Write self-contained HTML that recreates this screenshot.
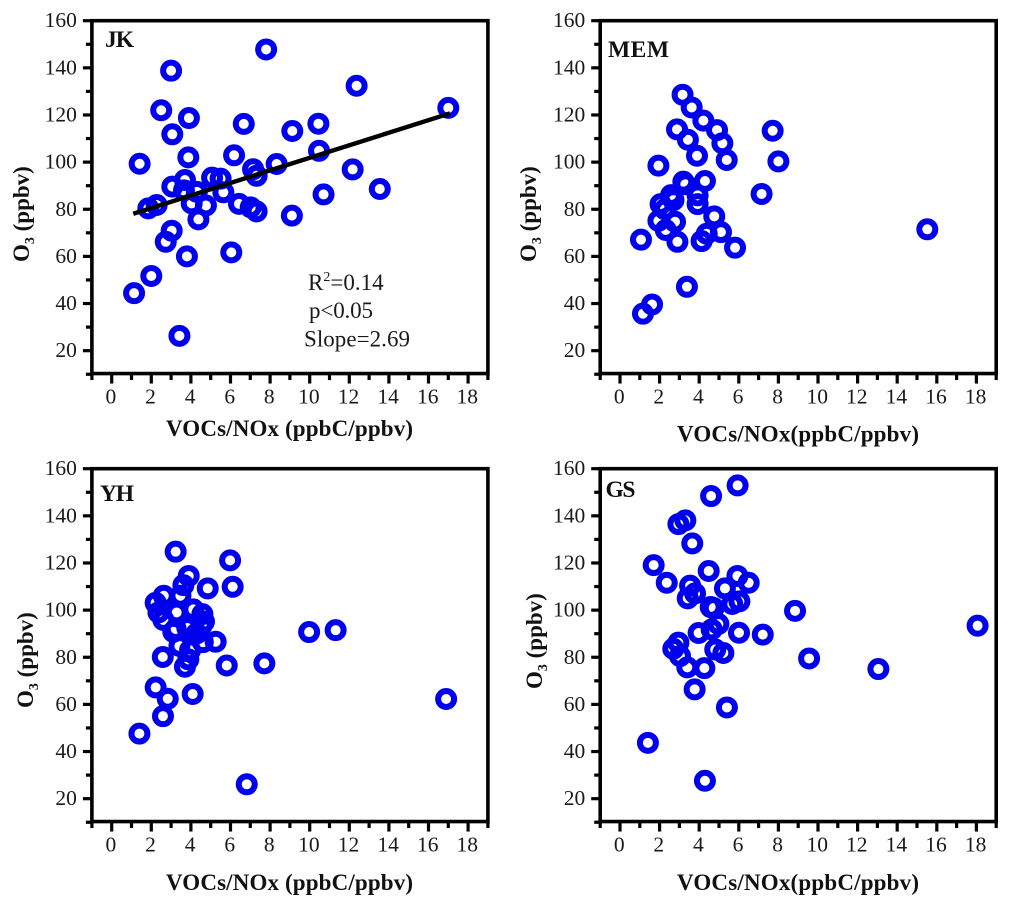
<!DOCTYPE html>
<html lang="en">
<head>
<meta charset="utf-8">
<title>O3 vs VOCs/NOx scatter panels</title>
<style>
html,body{margin:0;padding:0;background:#fff;}
svg{display:block;}
text{font-family:"Liberation Serif",serif;fill:#1a1a1a;}
.tick{font-size:21.5px;}
.title{font-size:23px;font-weight:bold;fill:#111;}
.tag{font-size:23.5px;font-weight:bold;fill:#111;}
.note{font-size:23px;}
</style>
</head>
<body>
<svg id="chart" xmlns="http://www.w3.org/2000/svg" width="1010" height="907" viewBox="0 0 1010 907"></svg>
<script>
const xMajorTicks = [0,2,4,6,8,10,12,14,16,18];
const xMinorTicks = [-1,1,3,5,7,9,11,13,15,17,19];
const yMajorTicks = [20,40,60,80,100,120,140,160];
const yMinorTicks = [10,30,50,70,90,110,130,150];

const jkX = [7.8,3.0,12.37,2.5,17.0,3.9,6.67,10.44,3.06,9.12,3.87,6.18,10.47,1.41,7.14,8.33,12.17,7.32,5.07,5.5,3.06,3.7,3.65,4.3,5.64,13.54,10.7,1.85,2.27,4.04,4.76,6.43,7.02,7.32,9.1,4.38,3.03,2.73,3.8,6.04,2.0,1.13,3.42];
const jkY = [147.8,138.8,132.4,122,123,118.7,116.2,116.3,111.8,113.2,102,102.9,104.8,99.3,97,99.2,96.9,94.2,93.4,93,89.6,92.4,88,87.4,87.2,88.6,86.3,80.4,81.8,82.5,81.6,82.3,80.8,79.1,77.3,75.7,70.9,66.2,60,61.7,51.7,44.4,26.3];
const jkFitX = [1.09,17.09];
const jkFitY = [78.1,120.7];

const memX = [3.16,3.62,4.21,4.9,2.88,3.43,5.17,3.89,5.39,7.71,8.0,1.94,3.2,3.3,4.29,7.15,3.92,3.92,2.58,2.7,2.05,2.27,2.78,1.94,2.31,2.9,1.06,4.76,5.1,4.12,4.38,5.81,15.52,3.38,1.62,1.16];
const memY = [128.6,123.2,117.6,113.6,113.9,109.5,108,102.7,100.9,113.3,100.3,98.5,91.7,90.6,92,86.5,85.9,82.2,86,83.9,82.2,80,74.7,75.1,71.2,66.2,67.1,77,70.3,66.5,69.6,63.7,71.5,47.1,39.6,35.7];

const yhX = [3.23,5.98,3.89,3.62,6.11,4.85,3.47,2.63,2.22,2.36,2.61,3.28,4.12,4.58,4.66,4.55,3.23,3.11,3.82,4.29,5.25,4.6,3.42,3.96,2.58,3.87,3.7,5.81,7.71,9.97,11.31,2.22,2.83,4.09,2.59,1.4,6.82,16.89];
const yhY = [124.8,121.1,114.5,110.6,109.9,109.2,106.1,106.1,103.1,99,95.8,99,100.3,98.3,95.1,93.7,92,90.8,92.4,90.1,86.6,86.4,84.8,83,80.1,79.1,76,76.5,77.4,90.7,91.5,67.2,62.4,64.4,55,47.6,26.1,62.3];

const gsX = [5.94,4.6,3.3,2.95,3.65,1.7,4.48,5.93,6.5,2.36,3.54,3.79,5.3,3.42,6.03,5.67,4.58,4.73,8.84,4.97,4.63,3.97,6.01,7.21,2.95,2.69,3.03,4.81,5.22,3.4,4.26,3.77,5.4,9.55,13.05,18.06,1.41,4.29];
const gsY = [152.9,148.4,138.1,136.5,128.3,119.1,116.6,114.5,111.6,111.6,110.4,107.1,109.2,105,103.7,102.6,101.3,100.9,99.7,94.1,91.8,90.3,90.4,89.6,86.2,83.6,80.5,83.3,81.8,75.7,75.4,66.4,58.7,79.5,75,93.4,43.7,27.6];

const NS = 'http://www.w3.org/2000/svg';
const svg = document.getElementById('chart');

function mk(tag, attrs, parent, txt){
  const el = document.createElementNS(NS, tag);
  for (const k in attrs) el.setAttribute(k, attrs[k]);
  if (txt !== undefined) el.textContent = txt;
  parent.appendChild(el);
  return el;
}

function drawPanel(p){
  const xs = v => p.x0 + v * 19.8;
  const ys = v => p.yTop + (160 - v) * 2.357;
  const g = mk('g', {}, svg);
  
  

  const L = xs(-1), R = xs(19), T = ys(160), B = ys(10.3);

  const pts = mk('g', {fill:'none', stroke:'#0000ee', 'stroke-width':6}, g);
  
  
  p.xv.forEach((xv, i) => {
    const c = mk('circle', {cx:xs(xv), cy:ys(p.yv[i]), r:8}, pts);
    
    
  });

  if (p.fitX){
    const fit = mk('line', {x1:xs(p.fitX[0]), y1:ys(p.fitY[0]), x2:xs(p.fitX[1]), y2:ys(p.fitY[1]), stroke:'#000', 'stroke-width':4.4}, g);
    
    
  }

  const frame = mk('rect', {x:L, y:T, width:R-L, height:B-T, fill:'none', stroke:'#000', 'stroke-width':3.6}, g);
  
  

  const xAxis = mk('g', {}, g);
  
  
  xMajorTicks.forEach(v => {
    mk('line', {x1:xs(v), x2:xs(v), y1:B, y2:B+10, stroke:'#000', 'stroke-width':3.2}, xAxis);
    const t = mk('text', {x:xs(v)-0.8, y:B+30, 'text-anchor':'middle', class:'tick'}, xAxis, String(v));
    
    
  });
  xMinorTicks.forEach(v => {
    mk('line', {x1:xs(v), x2:xs(v), y1:B, y2:B+6.5, stroke:'#000', 'stroke-width':3.2}, xAxis);
  });

  const yAxis = mk('g', {}, g);
  
  
  yMajorTicks.forEach(v => {
    mk('line', {x1:L-9, x2:L, y1:ys(v), y2:ys(v), stroke:'#000', 'stroke-width':3.2}, yAxis);
    const t = mk('text', {x:L-15, y:ys(v)+6.5, 'text-anchor':'end', class:'tick'}, yAxis, String(v));
    
    
  });
  yMinorTicks.forEach(v => {
    mk('line', {x1:L-6, x2:L, y1:ys(v), y2:ys(v), stroke:'#000', 'stroke-width':3.2}, yAxis);
  });

  const xt = mk('text', {x:p.xtX, y:p.xtY, class:'title', textLength:p.xtW, lengthAdjust:'spacing'}, g, p.xTitle);
  
  

  const yt = mk('text', {transform:'translate(' + p.ytX + ',' + p.ytY + ') rotate(-90)', class:'title'}, g);
  
  
  mk('tspan', {}, yt, 'O');
  mk('tspan', {dy:5, 'font-size':14}, yt, '3');
  mk('tspan', {dy:-5}, yt, ' (ppbv)');

  const tag = mk('text', {x:p.tagX, y:p.tagY, class:'tag', textLength:p.tagW, lengthAdjust:'spacing'}, g, p.tag);
  
  
}

const panels = [
  {key:'jk', tag:'JK', tagW:29, xv:jkX, yv:jkY, fitX:jkFitX, fitY:jkFitY, x0:111.7, yTop:20.7, xTitle:'VOCs/NOx (ppbC/ppbv)', xtX:166, xtY:436, xtW:247, ytX:29, ytY:262, tagX:105, tagY:47},
  {key:'mem', tag:'MEM', tagW:61, xv:memX, yv:memY, x0:620, yTop:20.7, xTitle:'VOCs/NOx(ppbC/ppbv)', xtX:677, xtY:441.5, xtW:242, ytX:536, ytY:262, tagX:608, tagY:57},
  {key:'yh', tag:'YH', tagW:34, xv:yhX, yv:yhY, x0:111.7, yTop:468.7, xTitle:'VOCs/NOx (ppbC/ppbv)', xtX:166, xtY:890, xtW:247, ytX:33, ytY:708, tagX:100, tagY:501},
  {key:'gs', tag:'GS', tagW:30, xv:gsX, yv:gsY, x0:620, yTop:468.7, xTitle:'VOCs/NOx(ppbC/ppbv)', xtX:677, xtY:890, xtW:242, ytX:542, ytY:689, tagX:605.5, tagY:497}
];
panels.forEach(drawPanel);

const stats = mk('g', {}, svg);


const r2 = mk('text', {x:308, y:290, class:'note'}, stats);


mk('tspan', {}, r2, 'R');
mk('tspan', {dy:-9, 'font-size':14}, r2, '2');
mk('tspan', {dy:9}, r2, '=0.14');
const pv = mk('text', {x:309, y:318, class:'note', textLength:64, lengthAdjust:'spacing'}, stats, 'p<0.05');


const sl = mk('text', {x:304, y:346.5, class:'note', textLength:106, lengthAdjust:'spacing'}, stats, 'Slope=2.69');


</script>
</body>
</html>
